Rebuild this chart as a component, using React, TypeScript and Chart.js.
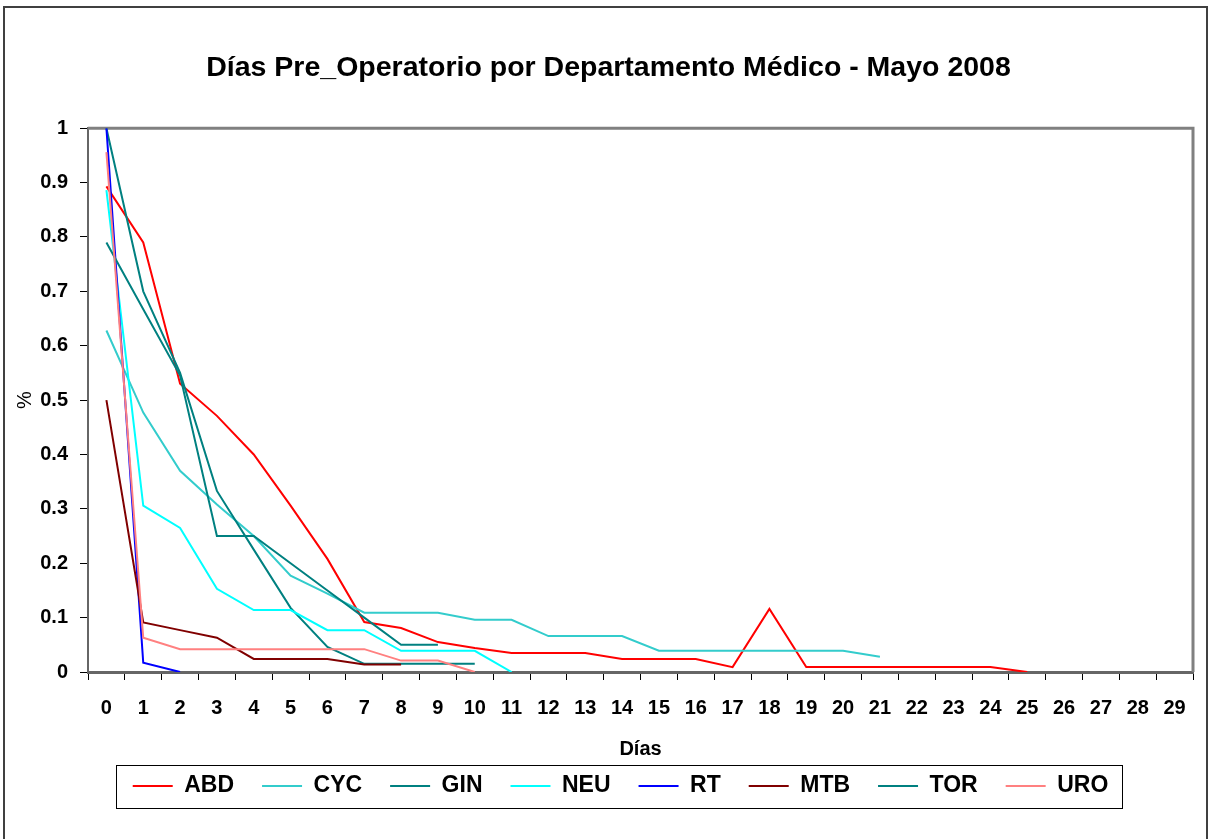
import React, { useEffect, useRef } from 'react';
import { Chart, registerables } from 'chart.js';

Chart.register(...registerables);

const FONT = "'Liberation Sans', Arial, sans-serif";

// ---------- data ----------
const days = ['0','1','2','3','4','5','6','7','8','9','10','11','12','13','14','15','16','17','18','19','20','21','22','23','24','25','26','27','28','29'];
const yTickLabels = ['0','0.1','0.2','0.3','0.4','0.5','0.6','0.7','0.8','0.9','1'];

const ABD = [0.893, 0.79, 0.53, 0.471, 0.40, 0.306, 0.208, 0.092, 0.081, 0.055, 0.044, 0.035, 0.035, 0.035, 0.024, 0.024, 0.024, 0.009, 0.116, 0.009, 0.009, 0.009, 0.009, 0.009, 0.009, 0];
const CYC = [0.628, 0.477, 0.37, 0.308, 0.25, 0.177, 0.144, 0.109, 0.109, 0.109, 0.096, 0.096, 0.066, 0.066, 0.066, 0.039, 0.039, 0.039, 0.039, 0.039, 0.039, 0.028];
const GIN = [1.0, 0.70, 0.55, 0.333, 0.225, 0.118, 0.046, 0.015, 0.015, 0.015, 0.015];
const NEU = [0.886, 0.306, 0.265, 0.153, 0.114, 0.114, 0.077, 0.077, 0.039, 0.039, 0.039, 0];
const RT = [1.0, 0.017, 0];
const MTB = [0.5, 0.091, 0.077, 0.063, 0.024, 0.024, 0.024, 0.014, 0.014];
const TOR = [0.79, 0.667, 0.545, 0.25, 0.25, 0.2, 0.15, 0.1, 0.05, 0.05];
const URO = [0.956, 0.063, 0.042, 0.042, 0.042, 0.042, 0.042, 0.042, 0.021, 0.021, 0];

const seriesNames = ['ABD', 'CYC', 'GIN', 'NEU', 'RT', 'MTB', 'TOR', 'URO'];
const seriesValues = [ABD, CYC, GIN, NEU, RT, MTB, TOR, URO];

// ---------- styles ----------
const seriesColors = ['#FF0000', '#33CCCC', '#008080', '#00FFFF', '#0000FF', '#800000', '#008080', '#FF8080'];

const framePlugin = {
  id: 'frame',
  afterLayout(chart: any) {
    const lg = chart.legend;
    if (lg) {
      lg.left += 20; lg.right += 20;
      lg.top -= 19.5; lg.bottom -= 19.5;
    }
    const tb = chart.titleBlock;
    if (tb) { tb.left += 8; tb.right += 8; }
  },
  beforeDraw(chart: any) {
    const ctx = chart.ctx;
    ctx.save();
    ctx.fillStyle = '#ffffff';
    ctx.fillRect(0, 0, chart.width, chart.height);
    ctx.strokeStyle = '#404040';
    ctx.lineWidth = 2;
    ctx.strokeRect(4, 7, 1203, 900);
    ctx.restore();
  },
  beforeDatasetsDraw(chart: any) {
    const { left, top, right, bottom } = chart.chartArea;
    const ctx = chart.ctx;
    ctx.save();
    ctx.strokeStyle = '#808080';
    ctx.lineWidth = 3;
    ctx.beginPath();
    ctx.moveTo(left, top);
    ctx.lineTo(right, top);
    ctx.lineTo(right, bottom);
    ctx.stroke();
    ctx.restore();
  },
  afterDraw(chart: any) {
    const lg = chart.legend;
    if (!lg || !lg.legendHitBoxes || !lg.legendHitBoxes.length) return;
    const hb = lg.legendHitBoxes;
    let minL = Infinity, maxR = -Infinity, minT = Infinity, maxB = -Infinity;
    hb.forEach((h: any) => {
      minL = Math.min(minL, h.left);
      maxR = Math.max(maxR, h.left + h.width);
      minT = Math.min(minT, h.top);
      maxB = Math.max(maxB, h.top + h.height);
    });
    const ctx = chart.ctx;
    ctx.save();
    ctx.strokeStyle = '#000000';
    ctx.lineWidth = 1;
    ctx.strokeRect(Math.round(minL - 17) + 0.5, Math.round(minT - 10) + 0.5, Math.round(maxR - minL + 30), Math.round(maxB - minT + 20));
    ctx.restore();
  },
};

export default function App() {
  const canvasRef = useRef<HTMLCanvasElement | null>(null);

  useEffect(() => {
    if (!canvasRef.current) return;
    Chart.defaults.font.family = FONT;
    const datasets = seriesNames.map((name, i) => ({
      label: name,
      data: seriesValues[i],
      borderColor: seriesColors[i],
      backgroundColor: seriesColors[i],
      borderWidth: 2,
      pointRadius: 0,
      pointHoverRadius: 0,
      tension: 0,
      fill: false,
      spanGaps: false,
      order: -i,
    }));

    const chart = new Chart(canvasRef.current, {
      type: 'line',
      data: { labels: days, datasets },
      plugins: [framePlugin],
      options: {
        responsive: false,
        maintainAspectRatio: false,
        animation: false,
        layout: { padding: { left: 8, right: 17, top: 0, bottom: 12 } },
        plugins: {
          tooltip: { enabled: false },
          title: {
            display: true,
            text: 'Días Pre_Operatorio por Departamento Médico - Mayo 2008',
            color: '#000',
            font: { size: 28.5, weight: 'bold', family: FONT },
            padding: { top: 51, bottom: 43 },
          },
          legend: {
            position: 'bottom',
            labels: {
              boxWidth: 40,
              boxHeight: 2,
              padding: 28,
              color: '#000',
              font: { size: 23, weight: 'bold', family: FONT },
              sort: (a: any, b: any) => a.datasetIndex - b.datasetIndex,
              generateLabels: (c: any) =>
                (Chart.defaults.plugins.legend.labels.generateLabels as any)(c).map((l: any) => ({
                  ...l,
                  lineWidth: 0,
                  fillStyle: seriesColors[l.datasetIndex],
                })),
            },
          },
        },
        scales: {
          x: {
            type: 'category',
            offset: true,
            grid: { offset: true, drawOnChartArea: false, drawTicks: true, tickLength: 8, color: '#000', lineWidth: 1 },
            border: { color: '#666666', width: 3 },
            ticks: { color: '#000', font: { size: 20, weight: 'bold', family: FONT }, padding: 16, maxRotation: 0, autoSkip: false },
            title: { display: true, text: 'Días', color: '#000', font: { size: 20, weight: 'bold', family: FONT }, padding: { top: 0, bottom: 5 } },
            afterFit: (s: any) => { s.height = 94; },
          },
          y: {
            min: 0,
            max: 1,
            grid: { drawOnChartArea: false, drawTicks: true, tickLength: 8, color: '#000', lineWidth: 1 },
            border: { color: '#666666', width: 2 },
            ticks: {
              stepSize: 0.1,
              padding: 12,
              color: '#000',
              font: { size: 20, weight: 'bold', family: FONT },
              callback: (_v: any, i: number) => yTickLabels[i],
            },
            title: { display: true, text: '%', color: '#000', font: { size: 20, family: FONT }, padding: { top: 5, bottom: 0 } },
            afterFit: (s: any) => { s.width = 80; },
          },
        },
      } as any,
    });
    return () => chart.destroy();
  }, []);

  return (
    <div style={{ position: 'fixed', left: 0, top: 0, width: 1210, height: 839 }}>
      <canvas ref={canvasRef} width={1210} height={839} style={{ display: 'block' }} />
    </div>
  );
}
